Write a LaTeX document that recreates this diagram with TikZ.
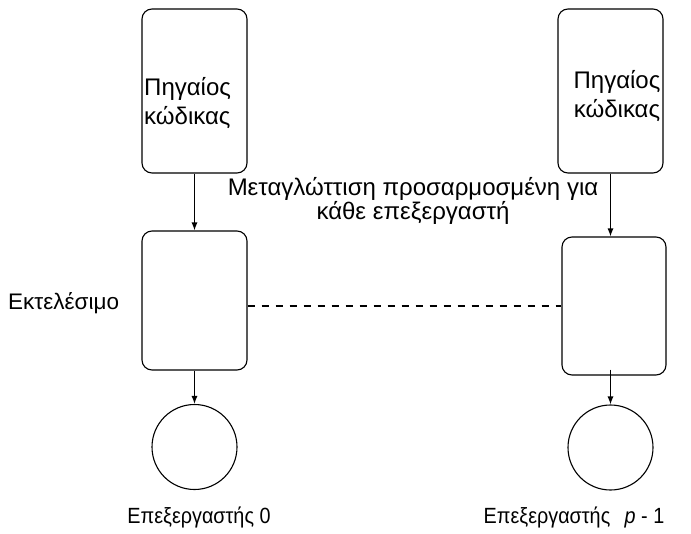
\documentclass[tikz,border=0pt]{standalone}
\usepackage{fontspec}
\usepackage{graphicx}
\setmainfont{Liberation Sans}
\usetikzlibrary{arrows.meta}
\begin{document}
\begin{tikzpicture}[x=1pt,y=-1pt,
  box/.style={draw, line width=1.1pt, rounded corners=10pt, inner sep=0pt},
  proc/.style={draw, line width=1.1pt, circle, inner sep=0pt, minimum size=85pt},
  conn/.style={line width=1.1pt, -{Latex[length=8pt,width=6pt]}},
  lbl/.style={inner sep=0pt}
]
\useasboundingbox (0,0) rectangle (691,533);
% boxes
\node[box, minimum width=105pt, minimum height=164pt] (src0) at (194.5,91) {};
\node[box, minimum width=105pt, minimum height=139pt] (exe0) at (194.5,300.5) {};
\node[box, minimum width=105pt, minimum height=164pt] (src1) at (610.5,91) {};
\node[box, minimum width=104pt, minimum height=138pt] (exe1) at (614,306) {};
\node[proc] (p0) at (194.5,447) {};
\node[proc] (p1) at (610.5,447.5) {};
% texts
\node[lbl, font=\fontsize{24}{29}\selectfont, align=left, anchor=base west] (t0) at (144,124) {Πηγαίος\\κώδικας};
\node[lbl, font=\fontsize{24}{29}\selectfont, align=center, anchor=base] (t1) at (617,117) {Πηγαίος\\κώδικας};
\node[lbl, font=\fontsize{22.5}{27}\selectfont, anchor=base west] (ex) at (8,309) {Εκτελέσιμο};
\node[lbl, font=\fontsize{24}{21.5}\selectfont, align=center, anchor=base] (mid) at (413,219.5) {Μεταγλώττιση προσαρμοσμένη για\\κάθε επεξεργαστή};
\node[lbl, font=\fontsize{22}{26}\selectfont, anchor=base] (l0) at (199,523) {\scalebox{0.9}[1]{Επεξεργαστής 0}};
\node[lbl, font=\fontsize{22}{26}\selectfont, anchor=base] (l1) at (574,523) {\scalebox{0.9}[1]{Επεξεργαστής\hspace{16pt}\textit{p} - 1}};
% connectors
\draw[conn] (src0.south -| exe0.north) -- (exe0.north);
\draw[conn] (src1.south -| p1.north) -- (exe1.north -| p1.north);
\draw[conn] (exe0.south -| p0.north) -- (p0.north);
\draw[conn] ([yshift=6pt]exe1.south -| p1.north) -- (p1.north);
\draw[line width=1.1pt, dash pattern=on 7pt off 7pt] (exe0.east |- exe1.west) -- (exe1.west);
\end{tikzpicture}
\end{document}
